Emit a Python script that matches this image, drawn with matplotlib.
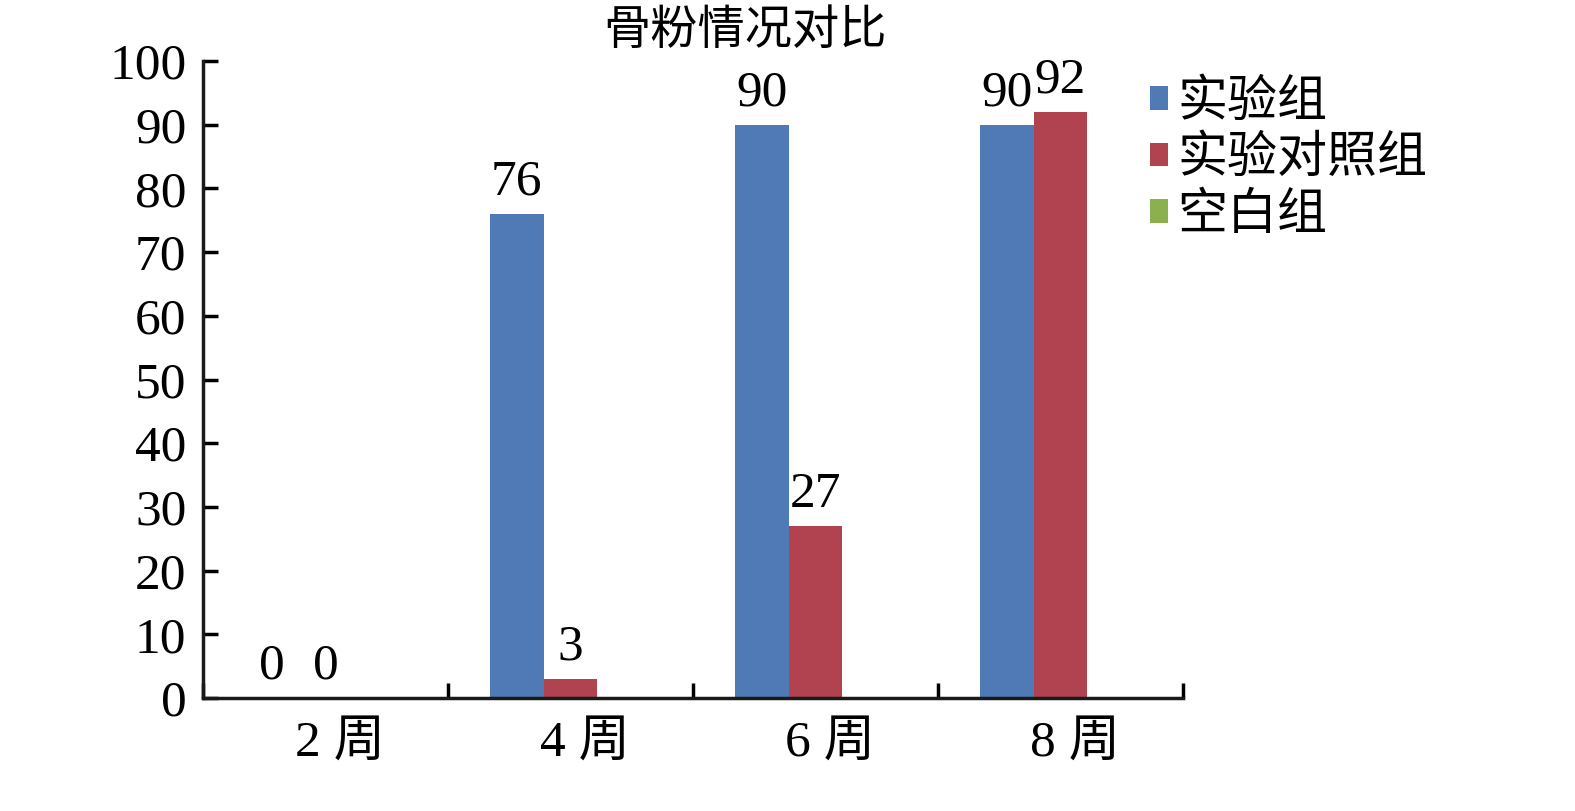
import matplotlib
matplotlib.use('Agg')
import matplotlib.pyplot as plt
import numpy as np

plt.rcParams['font.family'] = ['Liberation Serif', 'Noto Sans CJK SC']

# data
categories = ['2 周', '4 周', '6 周', '8 周']
series_names = ['实验组', '实验对照组', '空白组']
shiyan = [0, 76, 90, 90]
duizhao = [0, 3, 27, 92]
kongbai = [0, 0, 0, 0]
colors = ['#4F7AB5', '#B0434F', '#8DB04E']

fig = plt.figure(figsize=(15.75, 8.11), dpi=100)
ax = fig.add_axes([0.1289, 1 - 698 / 811, 0.7511 - 0.1289, (698 - 61) / 811])

x = np.arange(len(categories))
w = 0.22
b1 = ax.bar(x - w, shiyan, w, color=colors[0], label=series_names[0])
b2 = ax.bar(x, duizhao, w, color=colors[1], label=series_names[1])
b3 = ax.bar(x + w, kongbai, w, color=colors[2], label=series_names[2])

ax.bar_label(b1, padding=6, fontsize=37)
ax.bar_label(b2, padding=6, fontsize=37)

ax.set_xlim(-0.5, len(categories) - 0.5)
ax.set_ylim(0, 100)
ax.set_yticks(range(0, 101, 10))
ax.tick_params(axis='y', direction='in', length=11, width=2.5, labelsize=37, pad=12)

# category boundary ticks on x axis, labels in between
ax.set_xticks(np.arange(-0.5, len(categories) + 0.5, 1))
ax.set_xticklabels([])
ax.tick_params(axis='x', direction='in', length=11, width=2.5)
for i, c in enumerate(categories):
    ax.text(i + 0.06, -3.5, c, ha='center', va='top', fontsize=37)

for s in ['top', 'right']:
    ax.spines[s].set_visible(False)
for s in ['left', 'bottom']:
    ax.spines[s].set_linewidth(2.5)
    ax.spines[s].set_color('#1a1a1a')

fig.text(745 / 1575, 1 - 32 / 811, '骨粉情况对比', ha='center', va='center', fontsize=34)

leg = fig.legend(loc='upper left', bbox_to_anchor=(1130 / 1575, 1 - 60 / 811), frameon=False,
                 fontsize=36, handlelength=0.35, handleheight=0.35, handletextpad=0.2,
                 labelspacing=0.2, borderaxespad=0)

fig.savefig('out.png', dpi=100)
